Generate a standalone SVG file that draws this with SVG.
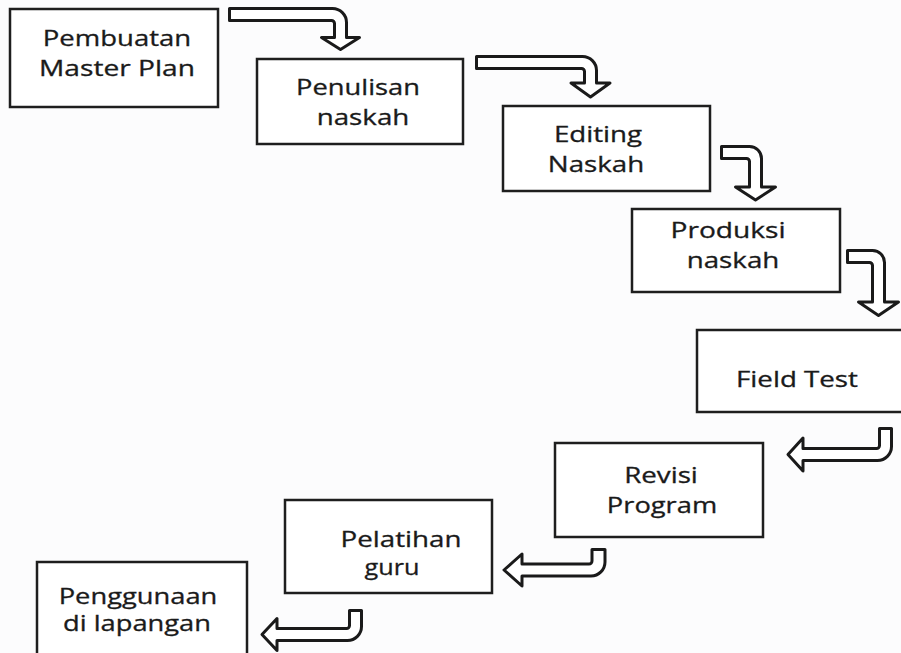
<svg xmlns="http://www.w3.org/2000/svg" width="901" height="653" viewBox="0 0 901 653">
<style>
.box{fill:#fff;stroke:#1e1e1e;stroke-width:2.5}
.lbl{font-family:"Open Sans","Noto Sans","Liberation Sans",sans-serif;font-size:21px;fill:#1a1a1a;text-anchor:middle;stroke:#1a1a1a;stroke-width:0.3}
.arr{fill:#fff;stroke:#1a1a1a;stroke-width:3;stroke-linejoin:round}
</style>
<rect width="901" height="653" fill="#fcfcfd"/>
<g id="connectors">
<path class="arr" d="M229.5,8.5 H332.5 A14,14 0 0 1 346.5,22.5 V37.5 H359.5 L340.5,49.5 L321.5,37.5 H334.5 V23.5 A3,3 0 0 0 331.5,20.5 H229.5 Z"/>
<path class="arr" d="M476.5,56.5 H582.5 A14,14 0 0 1 596.5,70.5 V83 H610 L590.5,97 L571,83 H584.5 V71.5 A3,3 0 0 0 581.5,68.5 H476.5 Z"/>
<path class="arr" d="M721.5,146.5 H749.5 A12,12 0 0 1 761.5,158.5 V187 H775.5 L755.5,200 L735.5,187 H749.5 V161.5 A3,3 0 0 0 746.5,158.5 H721.5 Z"/>
<path class="arr" d="M847.5,250.5 H872.5 A12,12 0 0 1 884.5,262.5 V302 H898.5 L878.5,315.5 L858.5,302 H872.5 V265.5 A3,3 0 0 0 869.5,262.5 H847.5 Z"/>
<path class="arr" d="M879.5,428.5 H891.5 V446.5 A14,14 0 0 1 877.5,460.5 H803 V471 L788,454.5 L803,438 V448.5 H876.5 A3,3 0 0 0 879.5,445.5 Z"/>
<path class="arr" d="M592,549.5 H605 V562 A14,14 0 0 1 591,576 H522 V586 L504,570 L522,554 V564 H589 A3,3 0 0 0 592,561 Z"/>
<path class="arr" d="M349.5,610.5 H361.5 V626.5 A14,14 0 0 1 347.5,640.5 H277 V650.5 L262,634.5 L277,618.5 V628.5 H346.5 A3,3 0 0 0 349.5,625.5 Z"/>
</g>
<g id="n1">
<rect class="box" x="10" y="9" width="208" height="98"/>
<text class="lbl" transform="translate(117,46) scale(1.31,1)">Pembuatan</text>
<text class="lbl" transform="translate(117,76) scale(1.34,1)">Master Plan</text>
</g>
<g id="n2">
<rect class="box" x="257" y="59" width="206" height="85"/>
<text class="lbl" transform="translate(358,95) scale(1.3,1)">Penulisan</text>
<text class="lbl" transform="translate(363,125) scale(1.32,1)">naskah</text>
</g>
<g id="n3">
<rect class="box" x="503" y="106" width="207" height="85"/>
<text class="lbl" transform="translate(598,142) scale(1.32,1)">Editing</text>
<text class="lbl" transform="translate(596,172) scale(1.32,1)">Naskah</text>
</g>
<g id="n4">
<rect class="box" x="632" y="209" width="208" height="83"/>
<text class="lbl" transform="translate(728,238) scale(1.34,1)">Produksi</text>
<text class="lbl" transform="translate(733,268) scale(1.32,1)">naskah</text>
</g>
<g id="n5">
<rect class="box" x="697" y="330" width="210" height="82"/>
<text class="lbl" transform="translate(797,387) scale(1.32,1)">Field Test</text>
</g>
<g id="n6">
<rect class="box" x="555" y="443" width="208" height="94"/>
<text class="lbl" transform="translate(661,483) scale(1.32,1)">Revisi</text>
<text class="lbl" transform="translate(662,513) scale(1.3,1)">Program</text>
</g>
<g id="n7">
<rect class="box" x="285" y="500" width="207" height="93"/>
<text class="lbl" transform="translate(401,547) scale(1.32,1)">Pelatihan</text>
<text class="lbl" transform="translate(392,575) scale(1.2,1)">guru</text>
</g>
<g id="n8">
<rect class="box" x="37" y="562" width="210" height="100"/>
<text class="lbl" transform="translate(138,604) scale(1.3,1)">Penggunaan</text>
<text class="lbl" transform="translate(137,631) scale(1.3,1)">di lapangan</text>
</g>
</svg>
